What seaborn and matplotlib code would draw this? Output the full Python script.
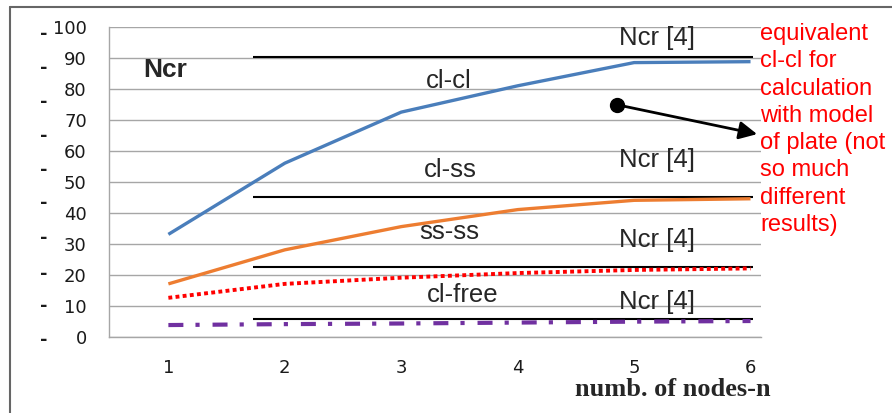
import matplotlib
matplotlib.use("Agg")
import matplotlib.pyplot as plt
import seaborn as sns
import pandas as pd
from matplotlib.lines import Line2D
import matplotlib.transforms as mtransforms

# data
nodes = [1, 2, 3, 4, 5, 6]
cl_cl = [33.0, 56.0, 72.5, 81.0, 88.5, 88.8]
cl_ss = [17.0, 28.0, 35.5, 41.0, 44.0, 44.5]
ss_ss = [12.5, 17.0, 19.0, 20.5, 21.5, 22.0]
cl_free = [3.7, 4.0, 4.2, 4.5, 4.8, 5.0]
ncr_ref = [90.4, 45.1, 22.5, 5.7]      # Ncr [4] levels
ncr_x = (1.73, 6.02)
y_ticks = list(range(0, 101, 10))
dash_y = [97.6, 86.9, 75.9, 64.9, 53.9, 43.2, 31.9, 20.2, 9.9, -1.1]

df = pd.DataFrame({"n": nodes, "cl-cl": cl_cl, "cl-ss": cl_ss,
                   "ss-ss": ss_ss, "cl-free": cl_free})

sns.set_theme(style="white")
plt.rcParams["font.family"] = ["Liberation Sans", "DejaVu Sans"]

fig = plt.figure(figsize=(8.92, 4.13), dpi=100)
ax = fig.add_axes([109 / 892, 1 - 336.5 / 413, (761 - 109) / 892, (336.5 - 27) / 413])

# outer frame of the chart area
fig.add_artist(Line2D([10 / 892, 1], [1 - 7 / 413] * 2, transform=fig.transFigure, color="#666666", lw=1.5))
fig.add_artist(Line2D([10 / 892] * 2, [0, 1 - 7 / 413], transform=fig.transFigure, color="#666666", lw=1.5))

# reference lines Ncr [4]
for v in ncr_ref:
    ax.hlines(v, ncr_x[0], ncr_x[1], color="black", lw=1.5, zorder=3)

sns.lineplot(data=df, x="n", y="cl-cl", ax=ax, color="#4a7ebb", lw=2.4, zorder=4)
sns.lineplot(data=df, x="n", y="cl-ss", ax=ax, color="#ed7d31", lw=2.4, zorder=4)
sns.lineplot(data=df, x="n", y="ss-ss", ax=ax, color="#ff0000", lw=2.8,
             linestyle=(0, (1, 0.85)), zorder=4)
sns.lineplot(data=df, x="n", y="cl-free", ax=ax, color="#7030a0", lw=3.0,
             linestyle=(0, (3.6, 2.9, 1, 3.1)), zorder=4)
for ln in ax.lines:
    ln.set_solid_capstyle("butt")
    ln.set_dash_capstyle("butt")

ax.set_xlim(0.49, 6.09)
ax.set_ylim(0, 100)
ax.set_yticks(y_ticks)
ax.set_xticks(nodes)
ax.set_xticks([0.49, 1.5, 2.5, 3.5, 4.5, 5.5], minor=True)
ax.tick_params(axis="x", which="major", length=0, pad=16, labelsize=13, labelcolor="#1a1a1a")
ax.tick_params(axis="x", which="minor", length=5, width=1, color="#999999", direction="out")
ax.tick_params(axis="y", length=7, width=1, color="#999999", pad=9, labelsize=13, labelcolor="#1a1a1a")
for lab in ax.get_xticklabels() + ax.get_yticklabels():
    lab.set_family("DejaVu Sans")
ax.grid(axis="y", color="#a6a6a6", lw=1)
ax.set_axisbelow(True)
ax.set_xlabel("")
ax.set_ylabel("")
for s in ["top", "right"]:
    ax.spines[s].set_visible(False)
for s in ["left", "bottom"]:
    ax.spines[s].set_color("#a6a6a6")
    ax.spines[s].set_linewidth(1)

# stray dashes left of the value labels
trans = mtransforms.blended_transform_factory(fig.transFigure, ax.transData)
for yv in dash_y:
    ax.text(44 / 892, yv, "-", transform=trans, ha="center", va="center",
            fontsize=13, fontweight="bold", color="#1a1a1a", family="DejaVu Sans", clip_on=False)

# labels
ax.text(0.97, 86.2, "Ncr", fontsize=19, fontweight="bold", ha="center", va="center")
ax.text(3.41, 82.7, "cl-cl", fontsize=18.5, ha="center", va="center")
ax.text(3.42, 53.9, "cl-ss", fontsize=18.5, ha="center", va="center")
ax.text(3.41, 33.8, "ss-ss", fontsize=18.5, ha="center", va="center")
ax.text(3.53, 13.4, "cl-free", fontsize=18.5, ha="center", va="center")
for yv in [96.6, 57.1, 31.2, 11.2]:
    ax.text(5.2, yv, "Ncr [4]", fontsize=18.5, ha="center", va="center", clip_on=False)

# note and arrow
ax.plot([4.85], [74.9], "o", color="black", ms=10, zorder=6)
ax.annotate("", xy=(6.08, 65.2), xytext=(4.85, 74.9),
            arrowprops=dict(arrowstyle="-|>,head_length=0.9,head_width=0.45", color="black", lw=2),
            annotation_clip=False, zorder=6)
fig.text(760 / 892, 1 - 23 / 413,
         "equivalent\ncl-cl for\ncalculation\nwith model\nof plate (not\nso much\ndifferent\nresults)",
         color="#ff0000", fontsize=17, ha="left", va="top", linespacing=1.31)

fig.text(673 / 892, 1 - 390 / 413, "numb. of nodes-n", fontsize=19, fontweight="bold",
         family="Liberation Serif", ha="center", va="center")

fig.savefig("out.png", dpi=100)
